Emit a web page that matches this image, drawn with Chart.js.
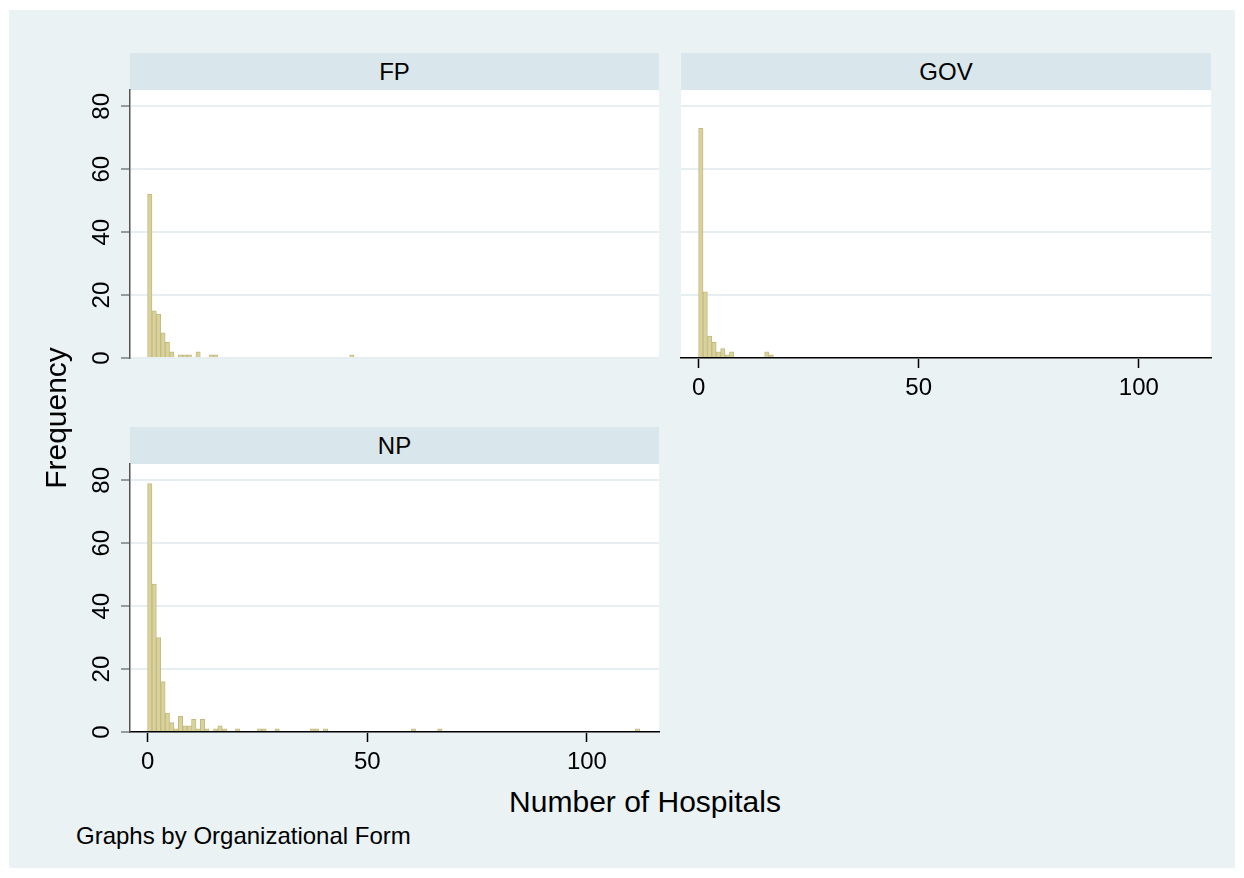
<!DOCTYPE html>
<html lang="en">
<head>
<meta charset="UTF-8">
<title>Number of Hospitals by Organizational Form</title>
<script src="https://cdn.jsdelivr.net/npm/chart.js"></script>
<style>
  body { margin: 0; background: #fff; font-family: "Liberation Sans", Arial, sans-serif; color: #000; }
  #graph { position: absolute; left: 9px; top: 10px; width: 1226px; height: 858px; background: #eaf2f3; }
  .strip { position: absolute; height: 37px; line-height: 37px; text-align: center; background: #d9e6eb; font-size: 24px; }
  canvas { position: absolute; }
  .txt { position: absolute; white-space: nowrap; }
</style>
</head>
<body>
<div id="graph"></div>

<div class="strip" style="left:130px; top:53px; width:529px;">FP</div>
<div class="strip" style="left:681px; top:53px; width:530px;">GOV</div>
<div class="strip" style="left:130px; top:427px; width:529px;">NP</div>

<canvas id="fp" width="610" height="290" style="left:60px; top:80px;"></canvas>
<canvas id="gov" width="550" height="330" style="left:671px; top:80px;"></canvas>
<canvas id="np" width="610" height="330" style="left:60px; top:454px;"></canvas>

<div class="txt" style="left:-94px; top:400px; width:300px; height:36px; line-height:36px; text-align:center; font-size:30px; transform:rotate(-90deg);">Frequency</div>
<div class="txt" style="left:345px; top:784px; width:600px; line-height:36px; text-align:center; font-size:30px;">Number of Hospitals</div>
<div class="txt" style="left:76px; top:822px; line-height:28px; font-size:24px;">Graphs by Organizational Form</div>

<script>
    // left edge of each non-empty bin (bins are 1 hospital wide)
    const fpBins = [0, 1, 2, 3, 4, 5, 7, 8, 9, 11, 14, 15, 46];
    const fpFreq = [52, 15, 14, 8, 5, 2, 1, 1, 1, 2, 1, 1, 1];

    const govBins = [0, 1, 2, 3, 4, 5, 6, 7, 15, 16];
    const govFreq = [73, 21, 7, 5, 2, 3, 1, 2, 2, 1];

    const npBins = [0, 1, 2, 3, 4, 5, 6, 7, 8, 9, 10, 11, 12, 13, 15, 16, 17, 20, 25, 26, 29, 37, 38, 40, 60, 66, 111];
    const npFreq = [79, 47, 30, 16, 6, 3, 1, 5, 2, 2, 4, 1, 4, 1, 1, 2, 1, 1, 1, 1, 1, 1, 1, 1, 1, 1, 1];

    const xTicks = [0, 50, 100];
    const yTicks = [0, 20, 40, 60, 80];

    const font = { family: '"Liberation Sans", Arial, sans-serif', size: 24 };

    // white plot region
    const plotBg = {
        id: 'plotBg',
        beforeDraw(chart) {
            const { ctx, chartArea: a } = chart;
            ctx.save();
            ctx.fillStyle = '#ffffff';
            ctx.fillRect(a.left, a.top, a.right - a.left, a.bottom - a.top);
            ctx.restore();
        }
    };

    function histPanel(id, bins, freq, showX, showY, padding) {
        return new Chart(document.getElementById(id), {
            type: 'bar',
            data: {
                datasets: [{
                    data: bins.map((b, i) => ({ x: b + 0.5, y: freq[i] })),
                    backgroundColor: '#d9d29c',
                    borderColor: '#c3ba80',
                    borderWidth: 1,
                    barPercentage: 1,
                    categoryPercentage: 1,
                }],
            },
            options: {
                responsive: false,
                animation: false,
                layout: { padding: padding },
                plugins: { legend: { display: false }, tooltip: { enabled: false } },
                scales: {
                    x: {
                        type: 'linear',
                        min: -4,
                        max: 116.4,
                        offset: false,
                        display: showX,
                        afterBuildTicks: s => { s.ticks = xTicks.map(v => ({ value: v })); },
                        grid: { offset: false, drawOnChartArea: false, drawTicks: true, tickLength: 10, tickColor: '#000', tickWidth: 1.5 },
                        border: { display: true, color: '#000', width: 1.5 },
                        ticks: { padding: 6, color: '#000', font: font, maxRotation: 0 },
                        afterFit: s => { s.height = showX ? 52 : 0; s.paddingLeft = 0; s.paddingRight = 0; },
                    },
                    y: {
                        min: 0,
                        max: 85.2,
                        afterBuildTicks: s => { s.ticks = yTicks.map(v => ({ value: v })); },
                        grid: { color: '#e6eef1', lineWidth: 2, drawTicks: showY, tickLength: 9, tickColor: '#444', tickWidth: 1 },
                        border: { display: showY, color: '#555', width: 1.5 },
                        ticks: { display: showY, minRotation: 90, maxRotation: 90, crossAlign: 'center', padding: 5, color: '#000', font: font },
                        afterFit: s => { s.width = showY ? 70 : 0; s.paddingTop = 0; s.paddingBottom = 0; },
                    },
                },
            },
            plugins: [plotBg],
        });
    }

    histPanel('fp', fpBins, fpFreq, false, true, { top: 10, right: 11, bottom: 12, left: 0 });
    histPanel('gov', govBins, govFreq, true, false, { top: 10, right: 10, bottom: 0, left: 10 });
    histPanel('np', npBins, npFreq, true, true, { top: 10, right: 11, bottom: 0, left: 0 });
</script>
</body>
</html>
